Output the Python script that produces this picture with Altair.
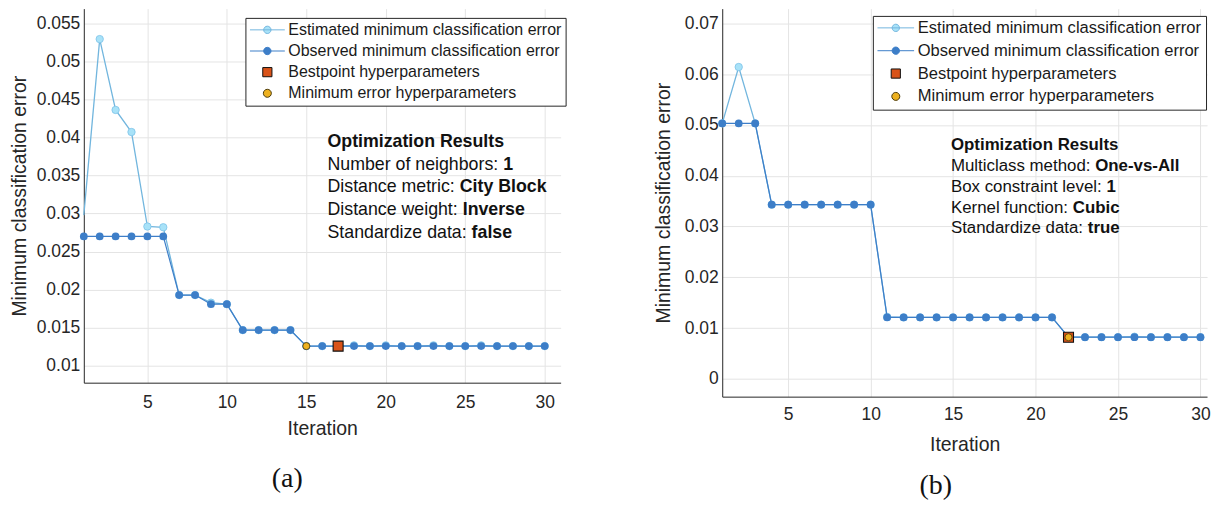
import altair as alt
import pandas as pd

# ---------------- data ----------------
iterations = [1, 2, 3, 4, 5, 6, 7, 8, 9, 10, 11, 12, 13, 14, 15,
              16, 17, 18, 19, 20, 21, 22, 23, 24, 25, 26, 27, 28, 29, 30]

a_observed = [0.0270, 0.0270, 0.0270, 0.0270, 0.0270, 0.0270, 0.0193, 0.0193, 0.0181, 0.0181,
              0.0147, 0.0147, 0.0147, 0.0147, 0.0126, 0.0126, 0.0126, 0.0126, 0.0126, 0.0126,
              0.0126, 0.0126, 0.0126, 0.0126, 0.0126, 0.0126, 0.0126, 0.0126, 0.0126, 0.0126]
a_estimated = [0.0298, 0.0529, 0.0436, 0.0407, 0.0283, 0.0282, 0.0193, 0.0193, 0.0183, 0.0181,
               0.0147, 0.0147, 0.0147, 0.0147, 0.0126, 0.0126, 0.0126, 0.0127, 0.0126, 0.0127,
               0.0126, 0.0126, 0.0127, 0.0126, 0.0126, 0.0127, 0.0126, 0.0126, 0.0126, 0.0126]
a_best_iter = [17]
a_best_err = [0.0126]
a_min_iter = [15]
a_min_err = [0.0126]

b_observed = [0.0503, 0.0503, 0.0503, 0.0343, 0.0343, 0.0343, 0.0343, 0.0343, 0.0343, 0.0343,
              0.0121, 0.0121, 0.0121, 0.0121, 0.0121, 0.0121, 0.0121, 0.0121, 0.0121, 0.0121,
              0.0121, 0.0082, 0.0082, 0.0082, 0.0082, 0.0082, 0.0082, 0.0082, 0.0082, 0.0082]
b_estimated = [0.0503, 0.0614, 0.0503, 0.0343, 0.0343, 0.0343, 0.0343, 0.0343, 0.0343, 0.0343,
               0.0122, 0.0121, 0.0121, 0.0121, 0.0121, 0.0121, 0.0121, 0.0121, 0.0121, 0.0121,
               0.0121, 0.0082, 0.0082, 0.0082, 0.0082, 0.0083, 0.0082, 0.0082, 0.0082, 0.0082]
b_best_iter = [22]
b_best_err = [0.0082]
b_min_iter = [22]
b_min_err = [0.0082]

x_ticks = [5, 10, 15, 20, 25, 30]
a_y_ticks = [0.01, 0.015, 0.02, 0.025, 0.03, 0.035, 0.04, 0.045, 0.05, 0.055]
b_y_ticks = [0.0, 0.01, 0.02, 0.03, 0.04, 0.05, 0.06, 0.07]

legend_names = ["Estimated minimum classification error",
                "Observed minimum classification error",
                "Bestpoint hyperparameters",
                "Minimum error hyperparameters"]

a_notes = [("", "Optimization Results"),
           ("Number of neighbors: ", "1"),
           ("Distance metric: ", "City Block"),
           ("Distance weight: ", "Inverse"),
           ("Standardize data: ", "false")]
b_notes = [("", "Optimization Results"),
           ("Multiclass method: ", "One-vs-All"),
           ("Box constraint level: ", "1"),
           ("Kernel function: ", "Cubic"),
           ("Standardize data: ", "true")]

# ---------------- styles ----------------
FONT = "Liberation Sans"
SERIF = "Liberation Serif"
TXT = "#262626"
EST_LINE = "#72B6DE"
EST_FILL = "#A8E2F8"
EST_EDGE = "#7DC3E8"
OBS = "#3D7EC8"
ORANGE = "#D95319"
GOLD = "#EDB120"

# Arial / Liberation Sans advance widths (1/1000 em) used to place the bold part
_W = {" ": 278, ":": 278, "-": 333,
      "a": 556, "b": 556, "c": 500, "d": 556, "e": 556, "f": 278, "g": 556, "h": 556,
      "i": 222, "j": 222, "k": 500, "l": 222, "m": 833, "n": 556, "o": 556, "p": 556,
      "q": 556, "r": 333, "s": 500, "t": 278, "u": 556, "v": 500, "w": 722, "x": 500,
      "y": 500, "z": 500,
      "A": 667, "B": 667, "C": 722, "D": 722, "E": 667, "F": 611, "G": 778, "H": 722,
      "I": 278, "K": 667, "L": 556, "M": 833, "N": 722, "O": 778, "P": 667, "R": 722,
      "S": 667, "T": 611}


def text_width(s, fs):
    return sum(_W.get(ch, 556) for ch in s) / 1000.0 * fs


def circle_path(r):
    return f"M{r},0A{r},{r} 0 1 1 {-r},0A{r},{r} 0 1 1 {r},0Z"


def panel(obs, est, best_i, best_e, min_i, min_e, cfg):
    df = pd.DataFrame({
        "Iteration": iterations * 2,
        "error": obs + est,
        "series": ["Observed"] * len(obs) + ["Estimated"] * len(est),
    })
    base = alt.Chart(df)
    x = alt.X("Iteration:Q",
              scale=alt.Scale(domain=cfg["xdomain"], nice=False, zero=False),
              axis=alt.Axis(values=x_ticks, title="Iteration", format="d",
                            labelPadding=cfg["xlabpad"], titleY=cfg["xtitle_y"],
                            titleBaseline="top", labelFontSize=cfg["tickfs"],
                            titleFontSize=cfg["titlefs"]))
    y = alt.Y("error:Q",
              scale=alt.Scale(domain=cfg["ydomain"], nice=False, zero=False),
              axis=alt.Axis(values=cfg["yticks"], format="~g",
                            title="Minimum classification error",
                            labelPadding=4, titleX=cfg["ytitle_x"],
                            titleY=cfg["height"] / 2, titleAngle=270,
                            titleAlign="center", titleBaseline="middle",
                            labelFontSize=cfg["tickfs"], titleFontSize=cfg["titlefs"]))

    est_line = base.transform_filter("datum.series == 'Estimated'").mark_line(
        color=EST_LINE, strokeWidth=1.3).encode(x=x, y=y)
    est_pts = base.transform_filter(
        f"datum.series == 'Estimated' && datum.Iteration >= {cfg['est_marker_from']}"
    ).mark_point(filled=True, fill=EST_FILL, stroke=EST_EDGE, strokeWidth=0.8,
                 size=55, opacity=1, shape="circle").encode(x=x, y=y)
    obs_line = base.transform_filter("datum.series == 'Observed'").mark_line(
        color=OBS, strokeWidth=1.2).encode(x=x, y=y)
    obs_pts = base.transform_filter("datum.series == 'Observed'").mark_point(
        filled=True, color=OBS, size=60, opacity=1, shape="circle").encode(x=x, y=y)

    best = alt.Chart(pd.DataFrame({"Iteration": best_i, "error": best_e})).mark_point(
        shape="square", filled=True, fill=ORANGE, stroke="#111111", strokeWidth=1.1,
        size=100, opacity=1).encode(x=x, y=y)
    mine = alt.Chart(pd.DataFrame({"Iteration": min_i, "error": min_e})).mark_point(
        shape="circle", filled=True, fill=GOLD, stroke="#4a3a0a", strokeWidth=0.8,
        size=50, opacity=1).encode(x=x, y=y)

    # legend (drawn by Vega-Lite from an explicit scale domain)
    u = cfg["legsym"]
    rc = cfg["leg_circle_r"]
    line_circle = f"M-1,0H1M{rc},0A{rc},{rc} 0 1 1 {-rc},0A{rc},{rc} 0 1 1 {rc},0Z"
    sq = round(4.6 / (u / 2), 3)
    square = f"M{-sq},{-sq}H{sq}V{sq}H{-sq}Z"
    dot = circle_path(round(4.0 / (u / 2), 3))
    leg = alt.Legend(orient="none", legendX=cfg["legx"], legendY=cfg["legy"], title=None,
                     strokeColor="#262626", fillColor="white", padding=4,
                     labelFont=FONT, labelFontSize=cfg["legfs"], labelColor="#1a1a1a",
                     labelOffset=3, rowPadding=cfg["legrowpad"], clipHeight=16,
                     symbolSize=u * u, symbolStrokeWidth=1, labelLimit=400)
    sc_fill = alt.Scale(domain=legend_names, range=[EST_FILL, OBS, ORANGE, GOLD])
    sc_stroke = alt.Scale(domain=legend_names, range=[EST_LINE, OBS, "#111111", "#4a3a0a"])
    sc_shape = alt.Scale(domain=legend_names, range=[line_circle, line_circle, square, dot])
    legend_layer = alt.Chart(pd.DataFrame({"key": legend_names})).transform_filter(
        "false").mark_point(filled=True, size=u * u, strokeWidth=1, opacity=1).encode(
        fill=alt.Fill("key:N", scale=sc_fill, legend=leg),
        stroke=alt.Stroke("key:N", scale=sc_stroke, legend=leg),
        shape=alt.Shape("key:N", scale=sc_shape, legend=leg),
    )

    layers = [est_line, est_pts, obs_line, obs_pts, best, mine, legend_layer]

    # annotation text: regular part, then bold part right after it
    fs = cfg["notefs"]
    for i, (reg, bold) in enumerate(cfg["notes"]):
        yy = cfg["note_y"][i]
        x0 = cfg["note_x"]
        if reg:
            layers.append(alt.Chart(pd.DataFrame({"t": [reg]})).mark_text(
                align="left", baseline="middle", font=FONT, fontSize=fs,
                color="#111111").encode(text="t:N", x=alt.value(x0), y=alt.value(yy)))
        layers.append(alt.Chart(pd.DataFrame({"t": [bold]})).mark_text(
            align="left", baseline="middle", font=FONT, fontSize=fs,
            fontWeight="bold", color="#111111").encode(
            text="t:N", x=alt.value(x0 + text_width(reg, fs)), y=alt.value(yy)))

    layers.append(alt.Chart(pd.DataFrame({"t": [cfg["caption"]]})).mark_text(
        align="center", baseline="middle", font=SERIF, fontSize=28, color="#111111"
    ).encode(text="t:N", x=alt.value(cfg["cap_x"]), y=alt.value(cfg["cap_y"])))

    return alt.layer(*layers).properties(width=cfg["width"], height=cfg["height"])


cfg_a = dict(xdomain=[1, 31], ydomain=[0.0078, 0.0569], yticks=a_y_ticks,
             width=478, height=375, xlabpad=11, xtitle_y=36.5, ytitle_x=-64,
             tickfs=17.5, titlefs=19.5, est_marker_from=2,
             legsym=35, leg_circle_r=0.21, legx=162, legy=9.3, legfs=16, legrowpad=5.2,
             notes=a_notes, note_y=[133.7, 156.5, 178.7, 202, 224.5], note_x=244.3,
             notefs=17.8, caption="(a)", cap_x=204, cap_y=472)
cfg_b = dict(xdomain=[1, 30.4], ydomain=[-0.0035, 0.0729], yticks=b_y_ticks,
             width=486, height=389, xlabpad=9, xtitle_y=38.5, ytitle_x=-59,
             tickfs=17.5, titlefs=19.5, est_marker_from=1,
             legsym=36.7, leg_circle_r=0.2, legx=151, legy=7.3, legfs=16.6, legrowpad=5.9,
             notes=b_notes, note_y=[137, 158, 178.7, 199.5, 219.5], note_x=229.3,
             notefs=16.9, caption="(b)", cap_x=214, cap_y=479)

left = panel(a_observed, a_estimated, a_best_iter, a_best_err, a_min_iter, a_min_err, cfg_a)
right = panel(b_observed, b_estimated, b_best_iter, b_best_err, b_min_iter, b_min_err, cfg_b)

chart = alt.hconcat(left, right, spacing=162, bounds="flush").resolve_scale(
    x="independent", y="independent", fill="independent", stroke="independent",
    shape="independent").resolve_legend(
    fill="independent", stroke="independent", shape="independent").configure_view(
    stroke=None).configure_axis(
    labelFont=FONT, titleFont=FONT, labelColor=TXT, titleColor=TXT, titleFontWeight="normal",
    domainColor="#262626", domainWidth=1, tickSize=0, ticks=False,
    gridColor="#E4E4E4", gridWidth=1).properties(
    padding={"left": 2, "top": 0, "right": 5, "bottom": 0}, background="white")

chart.save("out.html", embed_options={"renderer": "svg", "actions": False})
